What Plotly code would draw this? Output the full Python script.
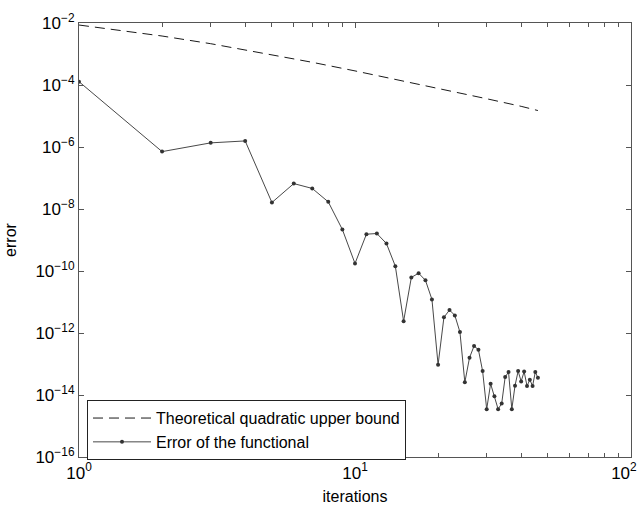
import plotly.graph_objects as go

# Error of the functional (iterations 1..46)
iterations = list(range(1, 47))
error_functional = [
    1.28e-4, 7.1e-7, 1.36e-6, 1.57e-6, 1.62e-8, 6.6e-8, 4.6e-8, 1.70e-8,
    2.18e-9, 1.75e-10, 1.54e-9, 1.62e-9, 7.7e-10, 1.43e-10, 2.4e-12, 6.2e-11,
    8.5e-11, 5.0e-11, 1.21e-11, 9.5e-14, 3.2e-12, 5.5e-12, 3.7e-12, 1.07e-12,
    2.56e-14, 1.60e-13, 3.8e-13, 2.9e-13, 5.9e-14, 3.5e-15, 2.3e-14, 9.1e-15,
    3.5e-15, 5.3e-15, 3.8e-14, 5.5e-14, 3.5e-15, 2.0e-14, 5.9e-14, 2.75e-14,
    5.7e-14, 1.95e-14, 3.1e-14, 1.95e-14, 5.5e-14, 3.6e-14,
]

# Theoretical quadratic upper bound, read at selected iterations
bound_iterations = [1, 2, 3, 5, 7, 10, 15, 20, 30, 40, 46]
bound_values = [8.6e-3, 3.8e-3, 2.15e-3, 9.6e-4, 5.4e-4, 2.85e-4,
                1.35e-4, 7.8e-5, 3.6e-5, 2.05e-5, 1.5e-5]

x_tickvals = [1, 10, 100]
x_ticktext = ["10<sup>0</sup>", "10<sup>1</sup>",
              "10<sup>2</sup>\u00a0\u00a0\u00a0"]
x_minor = [2, 3, 4, 5, 6, 7, 8, 9, 20, 30, 40, 50, 60, 70, 80, 90]
y_exponents = [-16, -14, -12, -10, -8, -6, -4, -2]
y_tickvals = [10.0 ** e for e in y_exponents]
y_ticktext = ["10<sup>\u2212%d</sup>" % (-e) for e in y_exponents]

FONT = "Liberation Sans, Arial, Helvetica, sans-serif"

fig = go.Figure()
fig.add_trace(go.Scatter(
    x=bound_iterations, y=bound_values, mode="lines",
    name="Theoretical quadratic upper bound",
    line=dict(color="#1a1a1a", width=1, dash="10px,6px"),
))
fig.add_trace(go.Scatter(
    x=iterations, y=error_functional, mode="lines+markers",
    name="Error of the functional",
    line=dict(color="#484848", width=1),
    marker=dict(color="#333333", size=4),
))

axis_common = dict(
    showline=True, linecolor="#555555", linewidth=1.2, mirror="ticks",
    ticks="inside", ticklen=5, tickcolor="#555555", tickwidth=1,
    showgrid=False, zeroline=False, ticklabeloverflow="allow",
    automargin=False,
    tickfont=dict(family=FONT, size=17, color="black"),
)

fig.update_xaxes(
    type="log", range=[0, 2], tickvals=x_tickvals, ticktext=x_ticktext,
    minor=dict(tickvals=x_minor, ticks="inside", ticklen=4,
               tickcolor="#555555", showgrid=False),
    title=dict(text="iterations", font=dict(family=FONT, size=16, color="black"),
               standoff=9),
    **axis_common,
)
fig.update_yaxes(
    type="log", range=[-16, -2], tickvals=y_tickvals, ticktext=y_ticktext,
    title=dict(text="error", font=dict(family=FONT, size=16, color="black"),
               standoff=14),
    **axis_common,
)

fig.update_layout(
    width=641, height=512,
    margin=dict(l=79, r=10, t=23, b=55),
    plot_bgcolor="white", paper_bgcolor="white",
    font=dict(family=FONT, size=16, color="black"),
    showlegend=True,
    legend=dict(
        x=0.0145, y=0.131, xanchor="left", yanchor="top",
        bgcolor="white", bordercolor="#222222", borderwidth=1,
        font=dict(family=FONT, size=16, color="black"),
        itemwidth=58, tracegroupgap=0,
    ),
)

fig.write_html("out.html")
